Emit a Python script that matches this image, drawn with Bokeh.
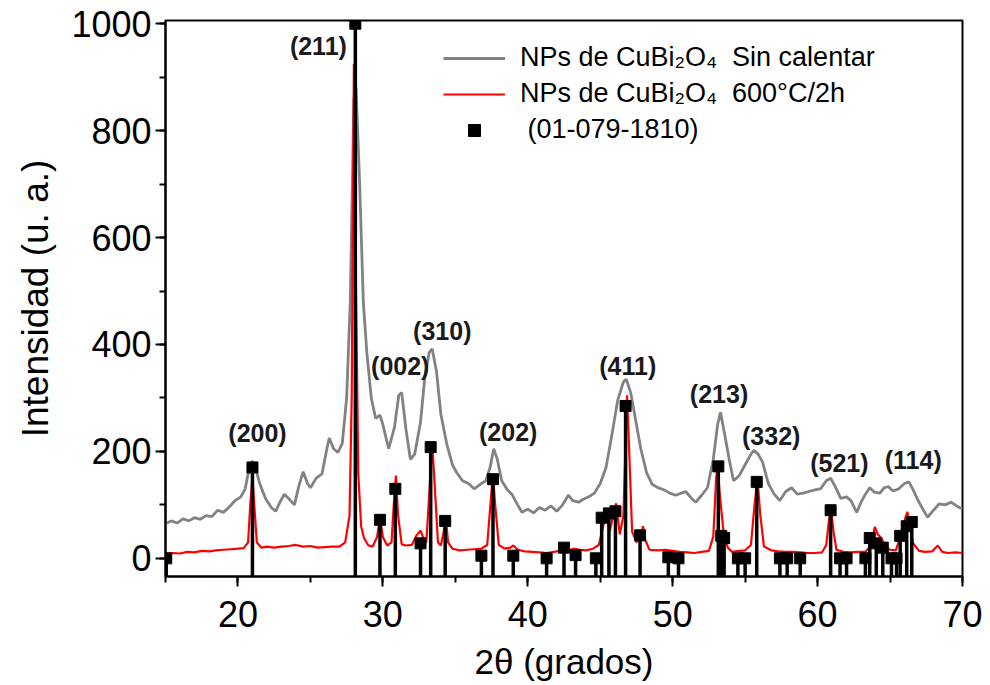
from bokeh.plotting import figure
from bokeh.models import (Range1d, SingleIntervalTicker, Legend, LegendItem,
                          ColumnDataSource)
from bokeh.core.properties import value
from bokeh.embed import file_html
from bokeh.resources import INLINE

# ---------------- data ----------------
# Unheated CuBi2O4 nanoparticles (gray)
gray_x = [15.0, 15.4, 15.8, 16.2, 16.6, 17.0, 17.4, 17.8, 18.2, 18.6, 19.0, 19.4, 19.8,
          20.2, 20.5, 20.8, 21.0, 21.2, 21.5, 21.9, 22.3, 22.6, 22.9, 23.2, 23.5, 23.9,
          24.2, 24.5, 24.8, 25.0, 25.4, 25.8, 26.1, 26.3, 26.6, 26.9, 27.2, 27.5, 27.75,
          28.0, 28.15, 28.4, 28.65, 28.9, 29.2, 29.5, 29.8, 30.0, 30.4, 30.8, 31.1, 31.3,
          31.6, 31.9, 32.2, 32.6, 32.9, 33.2, 33.4, 33.7, 34.0, 34.4, 34.8, 35.1, 35.5,
          35.9, 36.3, 36.7, 37.1, 37.4, 37.65, 37.9, 38.2, 38.6, 38.9, 39.3, 39.6, 40.0,
          40.4, 40.8, 41.2, 41.6, 42.0, 42.4, 42.8, 43.1, 43.5, 43.8, 44.2, 44.6, 45.0,
          45.4, 45.8, 46.2, 46.6, 46.8, 47.1, 47.5, 47.8, 48.2, 48.6, 49.0, 49.4, 49.8,
          50.2, 50.6, 50.9, 51.3, 51.6, 52.0, 52.4, 52.8, 53.1, 53.3, 53.6, 53.9, 54.2,
          54.6, 55.0, 55.4, 55.6, 55.9, 56.2, 56.6, 57.0, 57.4, 57.8, 58.2, 58.6, 59.0,
          59.4, 59.8, 60.2, 60.6, 60.9, 61.2, 61.6, 62.0, 62.3, 62.7, 63.0, 63.3, 63.6,
          63.9, 64.3, 64.6, 64.9, 65.2, 65.6, 66.0, 66.3, 66.6, 66.9, 67.3, 67.6, 68.0,
          68.4, 68.8, 69.2, 69.6, 70.0]
gray_y = [65, 70, 66, 74, 70, 76, 73, 80, 78, 90, 86, 96, 108,
          115, 130, 172, 182, 170, 140, 112, 95, 88, 105, 120, 112, 100,
          135, 162, 140, 132, 150, 158, 200, 225, 205, 198, 215, 300, 480,
          860, 880, 700, 480, 383, 300, 262, 268, 250, 205, 245, 305, 310,
          240, 185, 195, 255, 340, 385, 392, 350, 270, 215, 175, 160, 145,
          140, 130, 138, 145, 170, 205, 185, 145, 128, 120, 100, 86, 92,
          85, 95, 90, 98, 88, 100, 118, 108, 105, 110, 115, 122, 140,
          170, 230, 295, 330, 335, 310, 250, 205, 160, 138, 132, 128, 122,
          118, 122, 125, 112, 105, 118, 132, 185, 250, 273, 230, 185, 145,
          155, 175, 195, 202, 195, 180, 140, 120, 108, 125, 132, 120, 122,
          125, 128, 130, 145, 150, 135, 112, 115, 108, 86, 105, 120, 132,
          124, 122, 132, 134, 126, 130, 140, 143, 128, 110, 90, 77, 90,
          102, 100, 105, 98, 92]

# CuBi2O4 nanoparticles 600 C / 2 h (red)
red_x = [15.0, 15.5, 16.0, 16.5, 17.0, 17.5, 18.0, 18.5, 19.0, 19.5, 20.0, 20.4, 20.7,
         20.85, 21.0, 21.15, 21.3, 21.6, 22.0, 22.5, 23.0, 23.5, 24.0, 24.5, 25.0, 25.5,
         26.0, 26.5, 27.0, 27.4, 27.7, 27.85, 28.0, 28.15, 28.3, 28.5, 28.7, 29.0, 29.3,
         29.6, 29.8, 30.0, 30.3, 30.6, 30.75, 30.9, 31.05, 31.3, 31.6, 32.0, 32.3, 32.6,
         32.8, 33.0, 33.2, 33.4, 33.55, 33.8, 34.0, 34.2, 34.35, 34.5, 34.8, 35.3, 35.8,
         36.3, 36.8, 37.2, 37.45, 37.6, 37.75, 38.0, 38.4, 38.8, 39.0, 39.3, 39.8, 40.3,
         40.8, 41.3, 41.8, 42.2, 42.6, 42.9, 43.2, 43.6, 44.0, 44.5, 44.9, 45.2, 45.45,
         45.65, 45.85, 46.1, 46.35, 46.6, 46.85, 47.0, 47.2, 47.5, 47.8, 47.95, 48.1,
         48.4, 49.0, 49.5, 50.0, 50.5, 51.0, 51.5, 52.0, 52.5, 52.8, 53.0, 53.1, 53.25,
         53.5, 53.8, 54.1, 54.6, 55.0, 55.4, 55.65, 55.85, 56.05, 56.3, 56.8, 57.3, 57.8,
         58.3, 58.8, 59.3, 59.8, 60.3, 60.6, 60.8, 60.95, 61.1, 61.3, 61.8, 62.3, 62.8,
         63.3, 63.7, 63.95, 64.15, 64.4, 64.7, 65.0, 65.4, 65.8, 66.05, 66.2, 66.4, 66.6,
         67.0, 67.4, 67.9, 68.3, 68.6, 69.0, 69.5, 70.0]
red_y = [8, 10, 9, 12, 11, 14, 13, 15, 16, 17, 18, 19, 30,
         100, 152, 90, 30, 20, 22, 20, 22, 23, 25, 22, 23, 20,
         21, 22, 22, 30, 80, 300, 925, 500, 160, 60, 38, 24, 22,
         40, 76, 40, 24, 30, 100, 155, 80, 26, 24, 25, 42, 52,
         38, 30, 120, 215, 150, 30, 24, 50, 75, 30, 18, 15, 16,
         17, 18, 25, 110, 158, 100, 25, 18, 20, 24, 16, 13, 12,
         11, 10, 12, 14, 24, 16, 18, 16, 15, 18, 25, 60, 92,
         50, 75, 103, 45, 80, 305, 200, 50, 30, 40, 60, 35,
         16, 15, 16, 14, 12, 11, 10, 12, 14, 40, 150, 174, 120,
         52, 20, 12, 14, 15, 25, 100, 149, 80, 22, 15, 13, 12,
         12, 11, 10, 10, 11, 25, 75, 87, 50, 16, 12, 11, 12,
         12, 25, 59, 45, 38, 20, 16, 15, 47, 75, 87, 55, 28,
         14, 12, 13, 24, 12, 10, 11, 10]

# Reference pattern (01-079-1810)
ref_x = [15.05, 21.0, 28.1, 29.8, 30.86, 32.6, 33.3, 34.3, 36.8, 37.6, 39.0, 41.3,
         42.5, 43.3, 44.7, 45.1, 45.6, 46.05, 46.75, 47.75, 49.7, 50.4, 53.15, 53.35,
         53.55, 54.5, 55.0, 55.8, 57.4, 57.9, 58.8, 60.9, 61.55, 62.0, 63.3, 63.6,
         64.05, 64.5, 65.1, 65.45, 65.7, 66.15, 66.5]
ref_y = [0, 170, 1000, 72, 130, 28, 208, 70, 5, 148, 5, 0,
         20, 6, 0, 76, 84, 88, 285, 43, 2, 0, 172, 42,
         38, 0, 0, 143, 0, 0, 0, 90, 0, 0, 0, 38,
         28, 20, 0, 0, 42, 60, 68]

# Miller indices
hkl_text = ["(200)", "(211)", "(002)", "(310)", "(202)", "(411)", "(213)", "(332)", "(521)", "(114)"]
hkl_x = [21.35, 25.55, 31.2, 34.1, 38.65, 46.9, 53.2, 56.8, 61.5, 66.6]
hkl_y = [234, 958, 359, 426, 237, 359, 308, 228, 179, 183]

X_MIN, X_MAX = 15, 70
Y_MIN, Y_MAX = -34, 1006

# ---------------- figure ----------------
FONT = "Liberation Sans"
p = figure(width=990, height=685, output_backend="svg", toolbar_location=None,
           x_range=Range1d(X_MIN, X_MAX), y_range=Range1d(Y_MIN, Y_MAX),
           min_border_left=165, min_border_right=28, min_border_top=20,
           min_border_bottom=109)
p.background_fill_color = "white"
p.border_fill_color = "white"
p.outline_line_color = "black"
p.outline_line_width = 2
p.xgrid.visible = False
p.ygrid.visible = False

g = p.line(gray_x, gray_y, line_color="#828282", line_width=2.8)
r = p.line(red_x, red_y, line_color="#ff0000", line_width=2.2)
p.segment(x0=ref_x, y0=[Y_MIN] * len(ref_x), x1=ref_x, y1=ref_y,
          line_color="black", line_width=3.5)
m = p.scatter(ref_x, ref_y, marker="square", size=11, fill_color="black",
              line_color="black")

src = ColumnDataSource(dict(x=hkl_x, y=hkl_y, t=hkl_text))
p.text(x="x", y="y", text="t", source=src, text_font=value(FONT),
       text_font_style="bold", text_font_size="25px", text_align="center",
       text_baseline="middle", text_color="#1a1a1a")

for ax in (p.xaxis[0], p.yaxis[0]):
    ax.axis_line_width = 2
    ax.axis_line_color = "black"
    ax.major_tick_line_width = 2
    ax.minor_tick_line_width = 2
    ax.major_tick_in = 0
    ax.major_tick_out = 10
    ax.minor_tick_in = 0
    ax.minor_tick_out = 6
    ax.major_label_text_font = FONT
    ax.major_label_text_font_size = "36px"
    ax.major_label_text_color = "black"
    ax.axis_label_text_font = FONT
    ax.axis_label_text_font_style = "normal"
    ax.axis_label_text_color = "black"

p.xaxis.ticker = SingleIntervalTicker(interval=10, num_minor_ticks=2)
p.yaxis.ticker = SingleIntervalTicker(interval=200, num_minor_ticks=2)
p.xaxis.major_label_standoff = 14
p.yaxis.major_label_standoff = 4
p.xaxis.axis_label = "2θ (grados)"
p.xaxis.axis_label_text_font_size = "35px"
p.xaxis.axis_label_standoff = 12
p.yaxis.axis_label = "Intensidad (u. a.)"
p.yaxis.axis_label_text_font_size = "37px"
p.yaxis.axis_label_standoff = 12

legend = Legend(items=[
    LegendItem(label="NPs de CuBi₂O₄\u00a0 Sin calentar", renderers=[g]),
    LegendItem(label="NPs de CuBi₂O₄\u00a0 600°C/2h", renderers=[r]),
    LegendItem(label=" (01-079-1810)", renderers=[m]),
], location=(278, 431))
legend.border_line_color = None
legend.background_fill_alpha = 0
legend.label_text_font = FONT
legend.label_text_font_size = "27px"
legend.label_text_color = "black"
legend.glyph_width = 62
legend.glyph_height = 30
legend.spacing = 5
legend.padding = 5
legend.margin = 0
legend.label_standoff = 15
p.add_layout(legend)

open("out.html", "w").write(file_html(p, INLINE))
